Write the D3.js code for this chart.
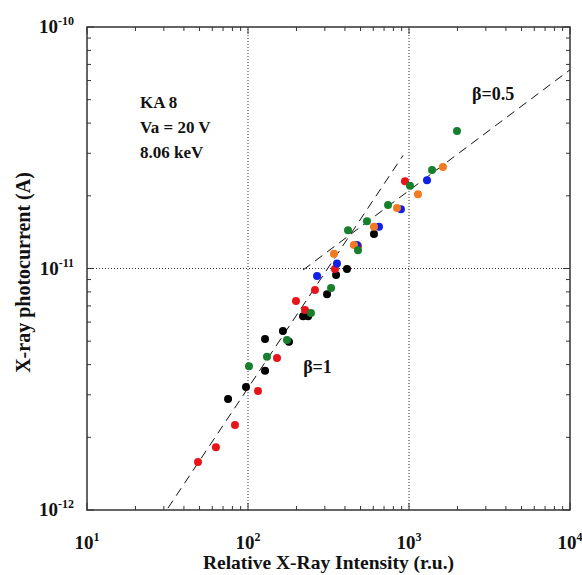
<!DOCTYPE html>
<html>
<head>
<meta charset="utf-8">
<script src="https://cdn.jsdelivr.net/npm/d3@7"></script>
<style>
  html, body { margin: 0; padding: 0; background: #fff; }
  svg text { font-family: "Liberation Serif", "Times New Roman", Times, serif; font-weight: bold; fill: #111; }
</style>
</head>
<body>
<svg id="chart" width="582" height="575"></svg>
<script>
// Measured photocurrent vs relative X-ray intensity, one array per run colour
const blackPts = [
  [75.2, 2.88e-12], [97.2, 3.23e-12], [127.6, 3.77e-12], [127.6, 5.11e-12],
  [164.8, 5.51e-12], [179.7, 4.97e-12], [219.7, 6.35e-12], [236.2, 6.35e-12],
  [309.7, 7.83e-12], [352.5, 9.4e-12], [412, 9.96e-12], [606, 1.39e-11]
];
const redPts = [
  [48.9, 1.58e-12], [63.2, 1.82e-12], [83.0, 2.25e-12], [115.3, 3.11e-12],
  [151.4, 4.26e-12], [198.6, 7.33e-12], [226, 6.73e-12], [260.6, 8.15e-12],
  [346.8, 9.96e-12], [482, 1.24e-11], [944, 2.30e-11]
];
const bluePts = [
  [268.5, 9.31e-12], [357, 1.05e-11], [475, 1.25e-11], [651, 1.49e-11],
  [891, 1.76e-11], [1294, 2.32e-11]
];
const orangePts = [
  [342, 1.15e-11], [455, 1.25e-11], [606, 1.49e-11], [842, 1.78e-11],
  [1137, 2.03e-11], [1625, 2.63e-11]
];
const greenPts = [
  [101.4, 3.94e-12], [131.2, 4.31e-12], [174.6, 5.06e-12], [246, 6.55e-12],
  [328, 8.30e-12], [418, 1.44e-11], [482, 1.19e-11], [548, 1.57e-11],
  [741, 1.83e-11], [1014, 2.20e-11], [1390, 2.56e-11], [1986, 3.71e-11]
];

// Power-law guides I = k * X^beta, drawn over [xFrom, xTo]
const guideBeta1 = { beta: 1, k: 3.2e-14, xFrom: 31.8, xTo: 920, label: "β=1", at: [220, 3.69e-12] };
const guideBeta05 = { beta: 0.5, k: 6.65e-13, xFrom: 220, xTo: 10000, label: "β=0.5", at: [2460, 5.0e-11] };

const xTickExps = [1, 2, 3, 4];
const yTickExps = [-12, -11, -10];
const gridX = [100, 1000];
const gridY = [1e-11];
const infoLines = ["KA 8", "Va = 20 V", "8.06 keV"];

const W = 582, H = 575;
const margin = { left: 87, right: 12, top: 27, bottom: 65 };
const svg = d3.select("#chart");

const x = d3.scaleLog().domain([10, 10000]).range([margin.left, W - margin.right]);
const y = d3.scaleLog().domain([1e-12, 1e-10]).range([H - margin.bottom, margin.top]);
const x0 = margin.left, x1 = W - margin.right, y0 = H - margin.bottom, y1 = margin.top;

// dotted grid at the inner decades
const grid = svg.append("g").attr("stroke", "#333").attr("stroke-width", 1).attr("stroke-dasharray", "1,2");
gridX.forEach(v => grid.append("line").attr("x1", x(v)).attr("x2", x(v)).attr("y1", y0).attr("y2", y1));
gridY.forEach(v => grid.append("line").attr("y1", y(v)).attr("y2", y(v)).attr("x1", x0).attr("x2", x1));

// inward ticks on all four sides
function logTicks(lo, hi) {
  const out = [];
  for (let e = lo; e < hi; e++) for (let m = 1; m <= 9; m++) out.push({ v: m * Math.pow(10, e), major: m === 1 });
  out.push({ v: Math.pow(10, hi), major: true });
  return out;
}
const tk = svg.append("g").attr("stroke", "#333").attr("stroke-width", 1);
logTicks(1, 4).forEach(t => {
  const L = t.major ? 7 : 4, px = x(t.v);
  tk.append("line").attr("x1", px).attr("x2", px).attr("y1", y0).attr("y2", y0 - L);
  tk.append("line").attr("x1", px).attr("x2", px).attr("y1", y1).attr("y2", y1 + L);
});
logTicks(-12, -10).forEach(t => {
  const L = t.major ? 7 : 4, py = y(t.v);
  tk.append("line").attr("y1", py).attr("y2", py).attr("x1", x0).attr("x2", x0 + L);
  tk.append("line").attr("y1", py).attr("y2", py).attr("x1", x1).attr("x2", x1 - L);
});

// frame
svg.append("rect").attr("x", x0).attr("y", y1).attr("width", x1 - x0).attr("height", y0 - y1)
  .attr("fill", "none").attr("stroke", "#333").attr("stroke-width", 1.5);

// tick labels with superscript exponents
xTickExps.forEach(e => {
  const t = svg.append("text").attr("x", x(Math.pow(10, e))).attr("y", 549).attr("text-anchor", "middle").attr("font-size", 19);
  t.append("tspan").text("10");
  t.append("tspan").attr("dy", -8).attr("font-size", 12).text(e);
});
yTickExps.forEach(e => {
  const t = svg.append("text").attr("x", 74).attr("y", y(Math.pow(10, e)) + 6).attr("text-anchor", "end").attr("font-size", 19);
  t.append("tspan").text("10");
  t.append("tspan").attr("dy", -8).attr("font-size", 12).text(e);
});

// axis titles
svg.append("text").attr("x", (x0 + x1) / 2).attr("y", 569).attr("text-anchor", "middle").attr("font-size", 19.5)
  .text("Relative X-Ray Intensity (r.u.)");
svg.append("text").attr("transform", `translate(30,${(y0 + y1) / 2 + 4}) rotate(-90)`).attr("text-anchor", "middle").attr("font-size", 20)
  .text("X-ray photocurrent (A)");

// power-law guides
const guideLine = d3.line().x(d => x(d[0])).y(d => y(d[1]));
[guideBeta1, guideBeta05].forEach(g => {
  const pts = [g.xFrom, g.xTo].map(v => [v, g.k * Math.pow(v, g.beta)]);
  svg.append("path").attr("d", guideLine(pts)).attr("fill", "none").attr("stroke", "#111")
    .attr("stroke-width", 1).attr("stroke-dasharray", "9,6");
  svg.append("text").attr("x", x(g.at[0])).attr("y", y(g.at[1])).attr("font-size", 18).text(g.label);
});

// data points
const series = [
  { pts: blackPts, color: "#000000" },
  { pts: redPts, color: "#e8141c" },
  { pts: bluePts, color: "#1020e6" },
  { pts: orangePts, color: "#f27a22" },
  { pts: greenPts, color: "#17802c" }
];
series.forEach(s => {
  svg.append("g").selectAll("circle").data(s.pts).join("circle")
    .attr("cx", d => x(d[0])).attr("cy", d => y(d[1])).attr("r", 4).attr("fill", s.color);
});

// run annotation
const info = svg.append("text").attr("x", 140).attr("y", 108).attr("font-size", 17);
infoLines.forEach((s, i) => info.append("tspan").attr("x", 140).attr("dy", i === 0 ? 0 : 25).text(s));
</script>
</body>
</html>
